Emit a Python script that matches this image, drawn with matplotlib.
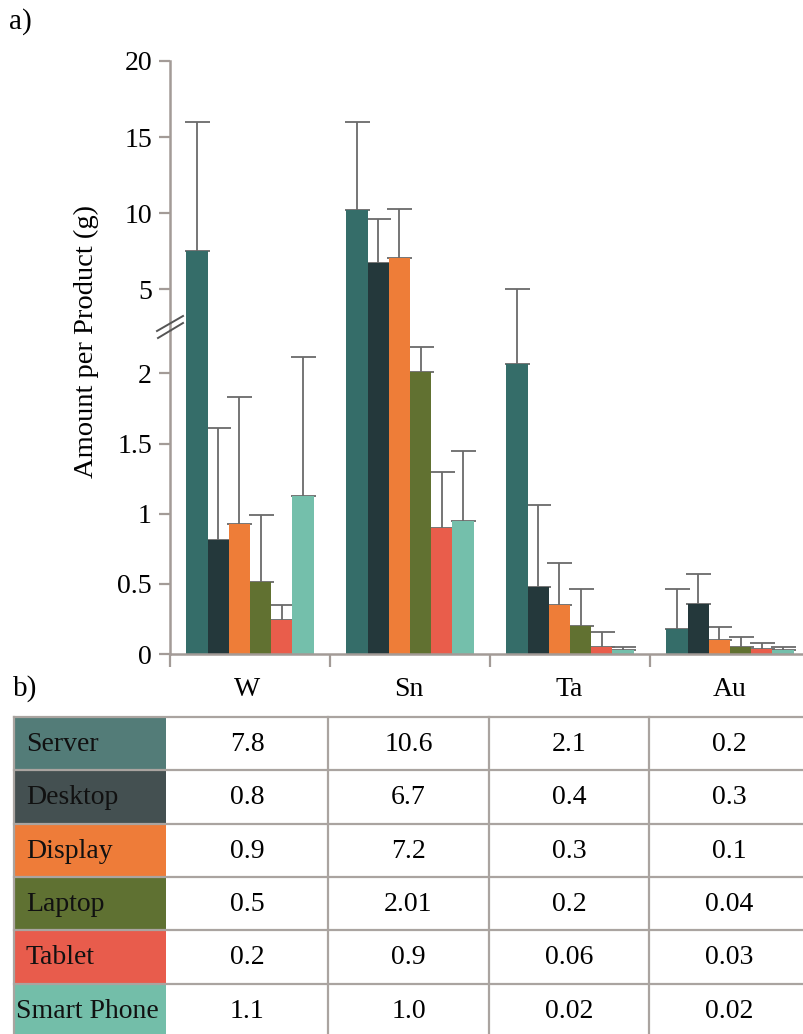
import matplotlib

matplotlib.use("Agg")
import matplotlib.pyplot as plt
import numpy as np
from matplotlib.patches import Rectangle

plt.rcParams["font.family"] = ["Liberation Serif", "DejaVu Serif"]

metals = ["W", "Sn", "Ta", "Au"]
products = ["Server", "Desktop", "Display", "Laptop", "Tablet", "Smart Phone"]

# bar heights (g per product), in metal order
server = [7.5, 10.2, 2.07, 0.18]
desktop = [0.81, 6.7, 0.48, 0.36]
display = [0.93, 7.05, 0.35, 0.10]
laptop = [0.51, 2.01, 0.20, 0.05]
tablet = [0.24, 0.90, 0.05, 0.035]
smart_phone = [1.13, 0.95, 0.025, 0.025]

# top of each error bar
server_hi = [16.0, 16.0, 5.0, 0.46]
desktop_hi = [1.61, 9.6, 1.06, 0.57]
display_hi = [1.83, 10.3, 0.65, 0.19]
laptop_hi = [0.99, 2.19, 0.46, 0.12]
tablet_hi = [0.35, 1.30, 0.16, 0.08]
smart_phone_hi = [2.12, 1.45, 0.05, 0.05]

# numbers printed in table b)
server_tab = ["7.8", "10.6", "2.1", "0.2"]
desktop_tab = ["0.8", "6.7", "0.4", "0.3"]
display_tab = ["0.9", "7.2", "0.3", "0.1"]
laptop_tab = ["0.5", "2.01", "0.2", "0.04"]
tablet_tab = ["0.2", "0.9", "0.06", "0.03"]
smart_phone_tab = ["1.1", "1.0", "0.02", "0.02"]

lower_ticks = [0, 0.5, 1, 1.5, 2]
lower_ticklabels = ["0", "0.5", "1", "1.5", "2"]
upper_ticks = [5, 10, 15, 20]

bar_colors = ["#356d69", "#24383b", "#ee7d38", "#617131", "#e95d4b", "#74bfab"]
cell_colors = ["#537c78", "#445051", "#ee7c39", "#5f7132", "#e85c4c", "#73bea9"]
axis_grey = "#a39b97"
err_grey = "#6a6a6a"

heights = [server, desktop, display, laptop, tablet, smart_phone]
tops = [server_hi, desktop_hi, display_hi, laptop_hi, tablet_hi, smart_phone_hi]
table_rows = [server_tab, desktop_tab, display_tab, laptop_tab, tablet_tab, smart_phone_tab]

W, H = 804, 1034
fig = plt.figure(figsize=(W / 100, H / 100), dpi=100)


def box(x0, y0, x1, y1):
    # pixel box (top-left origin) -> figure fraction
    return [x0 / W, 1 - y1 / H, (x1 - x0) / W, (y1 - y0) / H]


BREAK = 2.31
ax_lo = fig.add_axes(box(170, 330, 804, 654))
ax_hi = fig.add_axes(box(170, 61, 804, 330))

x = np.arange(len(metals))
bw = 0.1325
for ax in (ax_lo, ax_hi):
    ax.set_facecolor("none")
    for i, name in enumerate(products):
        pos = x + (i - 2.5) * bw
        vals = np.array(heights[i])
        up = np.array(tops[i]) - vals
        ax.bar(pos, vals, width=bw, color=bar_colors[i], zorder=2)
        ax.errorbar(pos, vals, yerr=[np.zeros_like(vals), up], fmt="none",
                    ecolor=err_grey, elinewidth=1.3, capsize=9, capthick=1.3,
                    zorder=1)
    ax.set_xlim(-0.5, -0.5 + 634 / 160)
    for s in ("top", "right"):
        ax.spines[s].set_visible(False)
    ax.spines["left"].set_color(axis_grey)
    ax.spines["left"].set_linewidth(1.8)
    ax.tick_params(axis="y", direction="out", length=8, width=1.6,
                   color=axis_grey, labelsize=20, pad=5)

ax_lo.set_ylim(0, BREAK)
ax_lo.set_yticks(lower_ticks)
ax_lo.set_yticklabels(lower_ticklabels)
ax_lo.spines["bottom"].set_color(axis_grey)
ax_lo.spines["bottom"].set_linewidth(1.8)
ax_lo.set_xticks([-0.5, 0.5, 1.5, 2.5])
ax_lo.set_xticklabels([])
ax_lo.tick_params(axis="x", direction="out", length=9, width=1.6, color=axis_grey)

ax_hi.set_ylim(BREAK, 20)
ax_hi.set_yticks(upper_ticks)
ax_hi.spines["bottom"].set_visible(False)
ax_hi.set_xticks([])

# page overlay in pixel coordinates: labels, break marks and table b)
page = fig.add_axes([0, 0, 1, 1], zorder=5)
page.set_xlim(0, W)
page.set_ylim(H, 0)
page.axis("off")

page.text(9, 22, "a)", fontsize=21, va="center", ha="left")
page.text(86, 342, "Amount per Product (g)", fontsize=20.5, rotation=90,
          ha="center", va="center")
page.plot([157, 183], [331, 316], color="#555555", lw=1.4)
page.plot([158, 183], [338, 323], color="#555555", lw=1.4)

page.text(13, 689, "b)", fontsize=21, va="center", ha="left")
col_edges = [166, 328, 489, 649, 810]
for j, m in enumerate(metals):
    page.text((col_edges[j] + col_edges[j + 1]) / 2, 690, m, fontsize=20,
              ha="center", va="center")

row_top, row_h = 717, 53.3
line_grey = "#aaa4a0"
for r, name in enumerate(products):
    y = row_top + r * row_h
    page.add_patch(Rectangle((14, y), 152, row_h, facecolor=cell_colors[r],
                             edgecolor="none"))
    page.text(26 if r < 5 else 16, y + row_h / 2 + 1, name, fontsize=20,
              color="#111111", ha="left", va="center")
    for j, v in enumerate(table_rows[r]):
        page.text((col_edges[j] + col_edges[j + 1]) / 2, y + row_h / 2 + 1, v,
                  fontsize=20, ha="center", va="center")
for r in range(len(products) + 1):
    y = row_top + r * row_h
    page.plot([14, 804], [y, y], color=line_grey, lw=1.6)
for xv in [14] + col_edges[1:4]:
    page.plot([xv, xv], [row_top, H], color=line_grey, lw=1.6)

fig.savefig("out.png", dpi=100)
